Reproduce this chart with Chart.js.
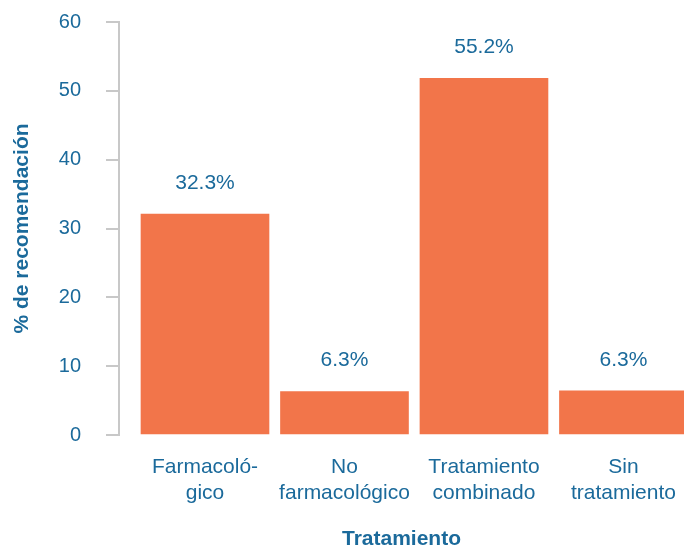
<!DOCTYPE html>
<html>
<head>
<meta charset="utf-8">
<script src="https://cdn.jsdelivr.net/npm/chart.js@4/dist/chart.umd.min.js"></script>
<style>
  html, body { margin: 0; padding: 0; background: #fff; }
  #wrap { width: 684px; height: 548px; }
</style>
</head>
<body>
<div id="wrap"><canvas id="chart"></canvas></div>
<script>
const categories = [['Farmacoló-', 'gico'], ['No', 'farmacológico'], ['Tratamiento', 'combinado'], ['Sin', 'tratamiento']];
const barValues = [32.1, 6.3, 51.8, 6.4];
const barLabels = ['32.3%', '6.3%', '55.2%', '6.3%'];
const yTicks = [0, 10, 20, 30, 40, 50, 60];

const textColor = '#1b6a9b';
const barColor = '#f2754a';
const axisColor = '#c8c8c8';
const fontFamily = '"Liberation Sans", Arial, sans-serif';

// draws the % text above each bar
const valueLabels = {
  id: 'valueLabels',
  afterDatasetsDraw(chart) {
    const { ctx } = chart;
    const meta = chart.getDatasetMeta(0);
    ctx.save();
    ctx.font = '21px ' + fontFamily;
    ctx.fillStyle = textColor;
    ctx.textAlign = 'center';
    ctx.textBaseline = 'middle';
    meta.data.forEach((bar, i) => {
      ctx.fillText(barLabels[i], bar.x, bar.y - 31);
    });
    ctx.restore();
  }
};

new Chart(document.getElementById('chart'), {
  type: 'bar',
  data: {
    datasets: [{
      data: barValues.map((v, i) => ({ x: i, y: v })),
      backgroundColor: barColor,
      borderWidth: 0,
      barThickness: 128
    }]
  },
  options: {
    responsive: true,
    maintainAspectRatio: false,
    animation: false,
    layout: { padding: { top: 22, right: 0, bottom: 0, left: 0 } },
    plugins: { legend: { display: false }, tooltip: { enabled: false } },
    scales: {
      x: {
        type: 'linear',
        offset: false,
        min: -0.6165,
        max: 3.434,
        afterBuildTicks: s => { s.ticks = categories.map((c, i) => ({ value: i })); },
        afterFit: s => { s.height = 113; s.paddingLeft = 0; s.paddingRight = 0; },
        grid: { display: false, drawTicks: false, offset: false },
        border: { display: false },
        ticks: {
          autoSkip: false,
          maxRotation: 0,
          padding: 19,
          color: textColor,
          font: { family: fontFamily, size: 21, lineHeight: 1.25 },
          callback: v => categories[v]
        },
        title: {
          display: true,
          text: 'Tratamiento',
          color: textColor,
          font: { family: fontFamily, size: 21, weight: 'bold', lineHeight: 0.8 },
          padding: { top: 0, bottom: 0 }
        }
      },
      y: {
        min: 0,
        max: 60,
        afterBuildTicks: s => { s.ticks = yTicks.map(v => ({ value: v })); },
        afterFit: s => { s.width = 119; s.paddingTop = 0; s.paddingBottom = 0; },
        grid: { drawOnChartArea: false, drawTicks: true, tickLength: 13, color: axisColor, lineWidth: 2 },
        border: { display: true, color: axisColor, width: 2 },
        ticks: {
          padding: 25,
          color: textColor,
          font: { family: fontFamily, size: 20 }
        },
        title: {
          display: true,
          text: '% de recomendación',
          color: textColor,
          font: { family: fontFamily, size: 21, weight: 'bold', lineHeight: 1 },
          padding: { top: 12, bottom: 0 }
        }
      }
    }
  },
  plugins: [valueLabels]
});
</script>
</body>
</html>
